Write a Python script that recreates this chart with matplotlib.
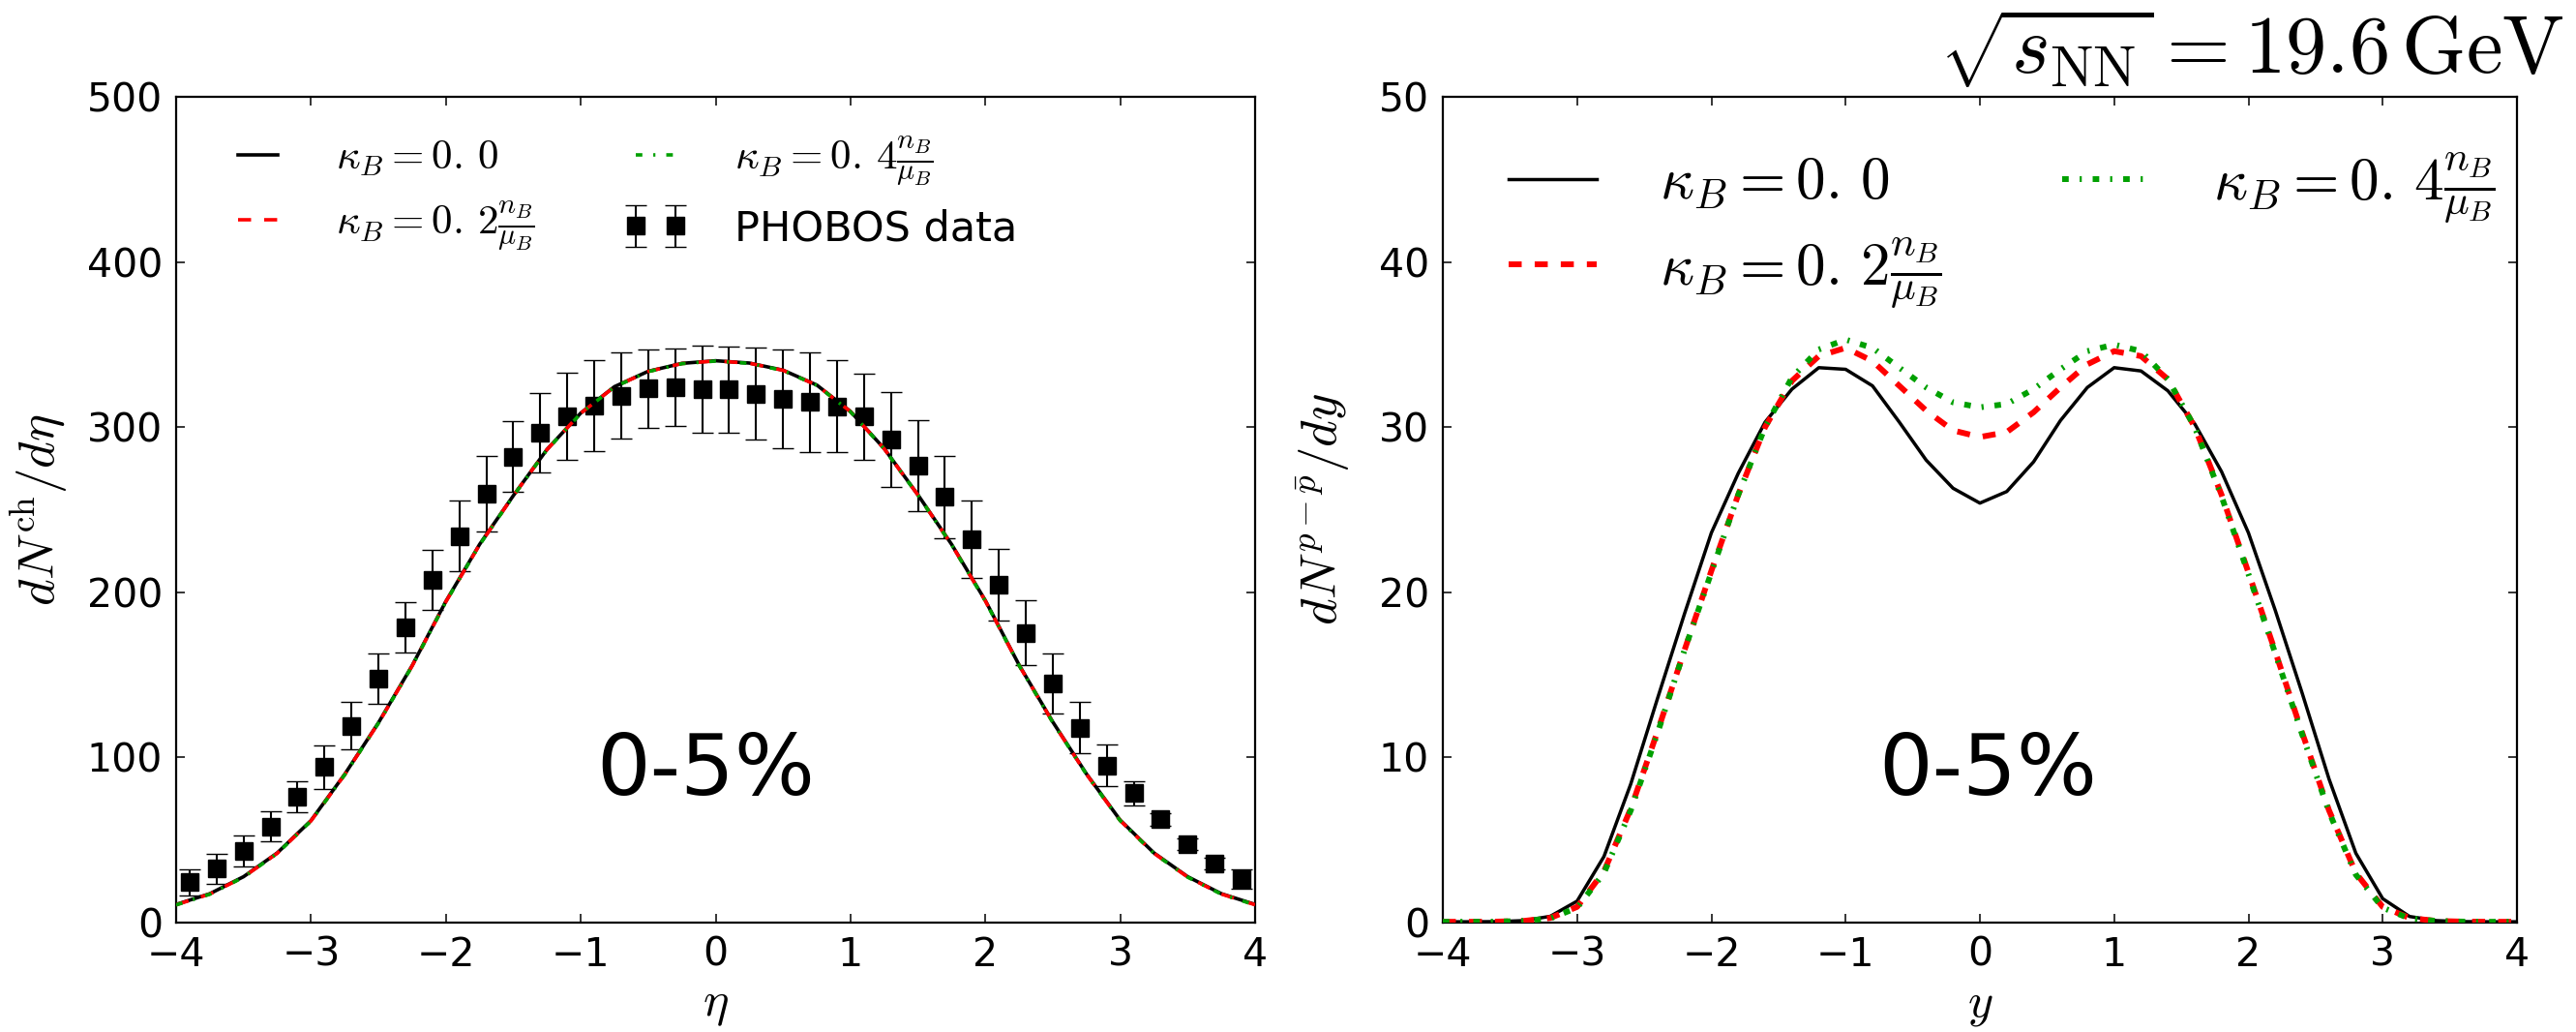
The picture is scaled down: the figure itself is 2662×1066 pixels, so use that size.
import matplotlib
matplotlib.use("Agg")
import matplotlib.pyplot as plt

plt.rcParams['mathtext.fontset'] = 'cm'
plt.rcParams['font.family'] = ['DejaVu Sans']
plt.rcParams['lines.scale_dashes'] = False

# ---------------- data: left panel (charged hadrons) ----------------
eta_model = [-4.0, -3.75, -3.5, -3.25, -3.0, -2.75, -2.5, -2.25, -2.0, -1.75, -1.5,
             -1.25, -1.0, -0.75, -0.5, -0.25, 0.0, 0.25, 0.5, 0.75, 1.0, 1.25,
             1.5, 1.75, 2.0, 2.25, 2.5, 2.75, 3.0, 3.25, 3.5, 3.75, 4.0]
dnch_k00 = [11.0, 17.5, 27.8, 42.2, 61.8, 89.8, 121.0, 155.6, 194.5, 229.0, 258.5,
            286.5, 308.5, 324.5, 333.8, 338.6, 340.2, 338.8, 334.5, 325.5, 309.5, 287.0,
            259.0, 229.0, 195.0, 156.0, 121.5, 90.0, 62.0, 42.2, 27.8, 17.5, 11.0]
dnch_k02 = [10.8, 17.3, 27.6, 42.0, 61.6, 89.6, 120.8, 155.4, 194.3, 228.8, 258.4,
            286.4, 308.4, 324.4, 333.7, 338.5, 340.1, 338.7, 334.4, 325.4, 309.4, 286.9,
            258.9, 228.8, 194.8, 155.8, 121.3, 89.8, 61.8, 42.0, 27.6, 17.3, 10.8]
dnch_k04 = [10.7, 17.2, 27.5, 41.9, 61.5, 89.5, 120.7, 155.3, 194.2, 228.7, 258.3,
            286.3, 308.3, 324.3, 333.6, 338.4, 340.0, 338.6, 334.3, 325.3, 309.3, 286.8,
            258.8, 228.7, 194.7, 155.7, 121.2, 89.7, 61.7, 41.9, 27.5, 17.2, 10.7]

eta_phobos = [-3.9, -3.7, -3.5, -3.3, -3.1, -2.9, -2.7, -2.5, -2.3, -2.1, -1.9, -1.7,
              -1.5, -1.3, -1.1, -0.9, -0.7, -0.5, -0.3, -0.1, 0.1, 0.3, 0.5, 0.7,
              0.9, 1.1, 1.3, 1.5, 1.7, 1.9, 2.1, 2.3, 2.5, 2.7, 2.9, 3.1, 3.3, 3.5,
              3.7, 3.9]
dnch_phobos = [24.4, 32.6, 43.4, 58.2, 76.3, 94.1, 119.1, 147.6, 179.0, 207.5, 234.1,
               259.6, 282.2, 296.6, 306.4, 313.1, 319.0, 323.3, 324.1, 322.9, 322.9,
               320.2, 317.2, 315.1, 312.7, 306.4, 292.5, 276.7, 257.7, 232.1, 204.6,
               175.5, 144.6, 118.1, 95.1, 78.4, 62.5, 47.4, 36.0, 26.4]
err_phobos = [7.8, 9.1, 9.6, 9.2, 9.3, 13.4, 14.4, 15.3, 15.2, 18.4, 21.6, 22.8,
              21.6, 23.9, 26.4, 27.4, 26.0, 23.8, 23.6, 26.2, 26.1, 27.7, 29.9, 30.0,
              27.8, 26.2, 29.0, 27.5, 24.7, 23.5, 21.5, 19.5, 18.2, 15.5, 12.6, 7.2,
              4.0, 3.5, 3.5, 6.0]

# ---------------- data: right panel (net protons) ----------------
y_model = [-4.0, -3.8, -3.6, -3.4, -3.2, -3.0, -2.8, -2.6, -2.4, -2.2, -2.0, -1.8,
           -1.6, -1.4, -1.2, -1.0, -0.8, -0.6, -0.4, -0.2, 0.0, 0.2, 0.4, 0.6, 0.8,
           1.0, 1.2, 1.4, 1.6, 1.8, 2.0, 2.2, 2.4, 2.6, 2.8, 3.0, 3.2, 3.4, 3.6,
           3.8, 4.0]
dnp_k00 = [0.05, 0.05, 0.06, 0.12, 0.38, 1.3, 4.0, 8.4, 13.6, 18.7, 23.6, 27.2,
           30.3, 32.3, 33.6, 33.5, 32.5, 30.3, 28.0, 26.3, 25.4, 26.1, 27.9, 30.4,
           32.4, 33.6, 33.4, 32.2, 30.2, 27.3, 23.6, 18.9, 13.9, 8.7, 4.2, 1.45,
           0.37, 0.12, 0.06, 0.05, 0.05]
dnp_k02 = [0.05, 0.05, 0.06, 0.10, 0.28, 0.95, 3.1, 6.9, 11.6, 16.5, 21.3, 25.9,
           30.0, 32.8, 34.3, 34.8, 34.0, 32.5, 31.0, 29.8, 29.4, 29.7, 30.9, 32.4,
           33.8, 34.6, 34.3, 32.9, 30.0, 25.9, 21.2, 16.4, 11.5, 6.8, 3.0, 0.95,
           0.28, 0.10, 0.06, 0.05, 0.05]
dnp_k04 = [0.05, 0.05, 0.06, 0.10, 0.25, 0.9, 3.0, 6.8, 11.5, 16.5, 21.2, 25.9,
           30.0, 33.0, 34.7, 35.3, 34.8, 33.6, 32.4, 31.5, 31.2, 31.4, 32.3, 33.5,
           34.6, 35.0, 34.6, 32.9, 30.0, 25.8, 21.1, 16.3, 11.4, 6.7, 2.9, 0.9,
           0.25, 0.10, 0.06, 0.05, 0.05]

x_ticks = [-4, -3, -2, -1, 0, 1, 2, 3, 4]
left_yticks = [0, 100, 200, 300, 400, 500]
right_yticks = [0, 10, 20, 30, 40, 50]

lab_k00 = r'$\kappa_B = 0.\,0$'
lab_k02 = r'$\kappa_B = 0.\,2\frac{n_B}{\mu_B}$'
lab_k04 = r'$\kappa_B = 0.\,4\frac{n_B}{\mu_B}$'

# ---------------- figure ----------------
W, H = 2662, 1066
fig = plt.figure(figsize=(W / 100, H / 100), dpi=100)
fig.patch.set_facecolor('white')

ax1 = fig.add_axes([182 / W, 1 - 953 / H, (1297 - 182) / W, (953 - 100) / H])
ax2 = fig.add_axes([1491 / W, 1 - 953 / H, (2601 - 1491) / W, (953 - 100) / H])

red_dash = (0, (9.7, 9.7))
green_dd = (0, (4.9, 8.1, 1.6, 8.1))

# left panel
hdata = ax1.errorbar(eta_phobos, dnch_phobos, yerr=err_phobos, fmt='s', color='k',
                     ms=13.5, mew=1, capsize=7.7, elinewidth=1.5, capthick=1.5,
                     zorder=2)
h0, = ax1.plot(eta_model, dnch_k00, color='k', lw=2.6, zorder=3)
h1, = ax1.plot(eta_model, dnch_k02, color='red', lw=2.6, linestyle=red_dash, zorder=4)
h2, = ax1.plot(eta_model, dnch_k04, color='#00a000', lw=2.6, linestyle=green_dd, zorder=5)

ax1.set_xlim(-4, 4)
ax1.set_ylim(0, 500)
ax1.set_xticks(x_ticks)
ax1.set_yticks(left_yticks)
ax1.set_xlabel(r'$\eta$', fontsize=36)
ax1.set_ylabel(r'$dN^{\rm ch}/d\eta$', fontsize=38)
ax1.xaxis.set_label_coords(0.5, -0.072)
ax1.yaxis.set_label_coords(-0.099, 0.5)
ax1.text(0.491, 0.183, '0-5%', transform=ax1.transAxes, fontsize=63,
         ha='center', va='center')
ax1.legend([h0, h1, h2, hdata], [lab_k00, lab_k02, lab_k04, 'PHOBOS data'],
           loc='upper left', bbox_to_anchor=(0.046, 0.955), ncol=2, frameon=False,
           fontsize=31, handlelength=1.55, handletextpad=1.1, columnspacing=2.12,
           labelspacing=0.5, borderaxespad=0, borderpad=0, numpoints=2)

# right panel
g0, = ax2.plot(y_model, dnp_k00, color='k', lw=2.5, zorder=3)
g1, = ax2.plot(y_model, dnp_k02, color='red', lw=4.3, linestyle=red_dash, zorder=4)
g2, = ax2.plot(y_model, dnp_k04, color='#00a000', lw=4.3, linestyle=green_dd, zorder=5)

ax2.set_xlim(-4, 4)
ax2.set_ylim(0, 50)
ax2.set_xticks(x_ticks)
ax2.set_yticks(right_yticks)
ax2.set_xlabel(r'$y$', fontsize=36)
ax2.set_ylabel(r'$dN^{p-\bar{p}}/dy$', fontsize=38)
ax2.xaxis.set_label_coords(0.5, -0.072)
ax2.yaxis.set_label_coords(-0.085, 0.5)
ax2.text(0.507, 0.183, '0-5%', transform=ax2.transAxes, fontsize=63,
         ha='center', va='center')
ax2.legend([g0, g1, g2], [lab_k00, lab_k02, lab_k04],
           loc='upper left', bbox_to_anchor=(0.061, 0.935), ncol=2, frameon=False,
           fontsize=44, handlelength=1.5, handletextpad=1.05, columnspacing=2.05,
           labelspacing=0.4, borderaxespad=0, borderpad=0)

for ax in (ax1, ax2):
    ax.tick_params(direction='in', top=True, right=True, length=6.7, width=1.1,
                   labelsize=29.5, pad=10)
    for s in ax.spines.values():
        s.set_linewidth(1.6)

fig.text(0.9955, 1 - 77 / H, r'$\sqrt{s_{\rm NN}}=19.6\,{\rm GeV}$',
         ha='right', va='baseline', fontsize=61)

fig.savefig('out.png', dpi=100, facecolor='white')
